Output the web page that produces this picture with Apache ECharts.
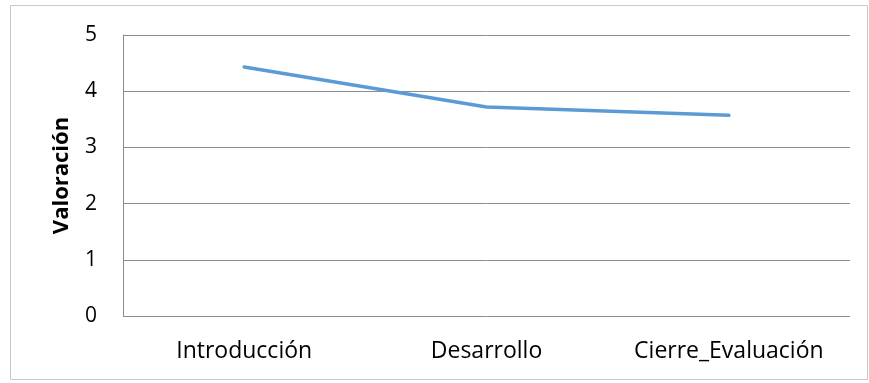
<!DOCTYPE html>
<html>
<head>
<meta charset="utf-8">
<script src="https://cdn.jsdelivr.net/npm/echarts@6/dist/echarts.min.js"></script>
<style>
  html, body { margin: 0; padding: 0; background: #ffffff; }
  #chart { width: 869px; height: 383px; }
</style>
</head>
<body>
<div id="chart"></div>
<script>
// Etapas de la sesión y su valoración media
const categories = ['Introducción', 'Desarrollo', 'Cierre_Evaluación'];
const valoracion = [4.43, 3.72, 3.57];
const yTicks = [0, 1, 2, 3, 4, 5];

const fontFamily = '"Open Sans", "Liberation Sans", sans-serif';

const chart = echarts.init(document.getElementById('chart'), null, { renderer: 'canvas' });

chart.setOption({
  animation: false,
  backgroundColor: '#ffffff',
  graphic: [{
    type: 'rect',
    shape: { x: 10.5, y: 5.5, width: 857, height: 374 },
    style: { fill: 'none', stroke: '#c8c8c8', lineWidth: 1 },
    silent: true
  }],
  grid: { left: 123, right: 19, top: 35, bottom: 67, containLabel: false },
  xAxis: {
    type: 'category',
    data: categories,
    boundaryGap: true,
    axisLine: { show: false },
    axisTick: { show: false },
    axisLabel: {
      color: '#000000', fontSize: 23, fontFamily: fontFamily, margin: 24,
      interval: 0, hideOverlap: false
    },
    splitLine: { show: false }
  },
  yAxis: {
    type: 'value',
    min: yTicks[0],
    max: yTicks[yTicks.length - 1],
    interval: 1,
    name: 'Valoración',
    nameLocation: 'middle',
    nameGap: 50,
    nameRotate: 90,
    nameTextStyle: { color: '#000000', fontSize: 22, fontWeight: 'bold', fontFamily: fontFamily },
    axisLine: { show: true, lineStyle: { color: '#8c8c8c', width: 1 } },
    axisTick: { show: false },
    axisLabel: { color: '#000000', fontSize: 21, fontFamily: fontFamily, margin: 26 },
    splitLine: { show: true, lineStyle: { color: '#8c8c8c', width: 1 } }
  },
  series: [{
    type: 'line',
    data: valoracion,
    symbol: 'none',
    lineStyle: { color: '#5b9bd5', width: 3.5, cap: 'round', join: 'round' },
    silent: true
  }]
});
</script>
</body>
</html>
